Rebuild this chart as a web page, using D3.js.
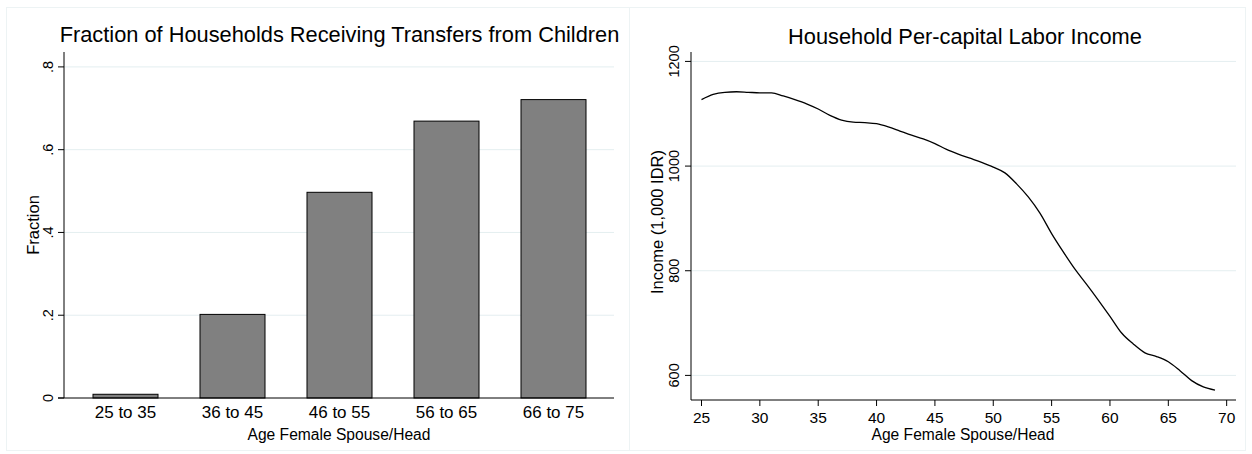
<!DOCTYPE html>
<html>
<head>
<meta charset="utf-8">
<script src="https://cdn.jsdelivr.net/npm/d3@7"></script>
<style>
  body { margin: 0; background: #fff; }
  svg { display: block; font-family: "Liberation Sans", Arial, Helvetica, sans-serif; }
</style>
</head>
<body>
<div class="chart"></div>
<script>
// Left panel data
const ageGroups = ["25 to 35", "36 to 45", "46 to 55", "56 to 65", "66 to 75"]
const fractionValues = [0.009, 0.202, 0.497, 0.669, 0.721]
const fractionTicks = [0, 0.2, 0.4, 0.6, 0.8]
const fractionTickLabels = ["0", ".2", ".4", ".6", ".8"]

// Right panel data
const ages = [25, 26, 27, 28, 29, 30, 31, 32, 33, 34, 35, 36, 37, 38, 39, 40, 41, 42, 43, 44, 45,
    46, 47, 48, 49, 50, 51, 52, 53, 54, 55, 56, 57, 58, 59, 60, 61, 62, 63, 64, 65, 66, 67, 68, 69]
const incomeValues = [1127, 1137, 1141, 1142, 1141, 1140, 1140, 1134, 1127, 1119, 1109, 1097, 1088, 1084, 1083, 1081,
    1075, 1067, 1059, 1052, 1043, 1032, 1023, 1015, 1007, 998, 987, 966, 941, 910, 871, 836, 803, 774, 744, 713,
    681, 660, 643, 636, 626, 609, 590, 578, 572]
const incomeTicks = [600, 800, 1000, 1200]
const ageTicks = [25, 30, 35, 40, 45, 50, 55, 60, 65, 70]

const width = 1252
const height = 454
const gridColor = "#e4eef0"
const frameColor = "#edf3f4"

const svg = d3.select(".chart").append("svg")
    .attr("width", width)
    .attr("height", height)
    .attr("viewBox", [0, 0, width, height])

// Panel frames
svg.append("rect").attr("x", 6.5).attr("y", 7.5).attr("width", 623).attr("height", 443)
    .attr("fill", "none").attr("stroke", frameColor)
svg.append("rect").attr("x", 629.5).attr("y", 7.5).attr("width", 616).attr("height", 443)
    .attr("fill", "none").attr("stroke", frameColor)

// ---------- Left: bar chart ----------
const x1 = d3.scaleBand()
    .domain(ageGroups)
    .range([72, 607])
    .paddingInner(0.3925)
    .paddingOuter(0.19625)
const y1 = d3.scaleLinear().domain([0, 0.836]).range([398, 52])
const left = { x0: 64, x1: 614 }

// gridlines
svg.append("g").selectAll("line")
    .data(fractionTicks.filter(d => d > 0))
    .join("line")
    .attr("x1", left.x0).attr("x2", left.x1)
    .attr("y1", d => y1(d)).attr("y2", d => y1(d))
    .attr("stroke", gridColor)

// bars
svg.append("g").selectAll("rect")
    .data(ageGroups)
    .join("rect")
    .attr("x", d => x1(d))
    .attr("width", x1.bandwidth())
    .attr("y", (d, i) => y1(fractionValues[i]))
    .attr("height", (d, i) => y1(0) - y1(fractionValues[i]))
    .attr("fill", "#808080")
    .attr("stroke", "#000")
    .attr("stroke-width", 1)

// axes lines
svg.append("line").attr("x1", left.x0).attr("x2", left.x0).attr("y1", 52).attr("y2", y1(0))
    .attr("stroke", "#000")
svg.append("line").attr("x1", left.x0 - 6).attr("x2", left.x1).attr("y1", y1(0)).attr("y2", y1(0))
    .attr("stroke", "#000")

// y ticks
const yTicks1 = svg.append("g").selectAll("g")
    .data(fractionTicks)
    .join("g")
yTicks1.append("line")
    .attr("x1", left.x0 - 6).attr("x2", left.x0)
    .attr("y1", d => y1(d)).attr("y2", d => y1(d))
    .attr("stroke", "#000")
yTicks1.append("text")
    .attr("transform", d => `translate(53,${y1(d)}) rotate(-90)`)
    .attr("text-anchor", "middle")
    .attr("font-size", 14.5)
    .text((d, i) => fractionTickLabels[i])

// x labels
svg.append("g").selectAll("text")
    .data(ageGroups)
    .join("text")
    .attr("x", d => x1(d) + x1.bandwidth() / 2)
    .attr("y", 418)
    .attr("text-anchor", "middle")
    .attr("font-size", 17)
    .text(d => d)

// titles
svg.append("text").attr("x", 339.5).attr("y", 42).attr("text-anchor", "middle")
    .attr("font-size", 21.8).text("Fraction of Households Receiving Transfers from Children")
svg.append("text").attr("x", 339).attr("y", 439.5).attr("text-anchor", "middle")
    .attr("font-size", 15.6).text("Age Female Spouse/Head")
svg.append("text").attr("transform", "translate(39,225) rotate(-90)").attr("text-anchor", "middle")
    .attr("font-size", 16.5).text("Fraction")

// ---------- Right: line chart ----------
const x2 = d3.scaleLinear().domain([24.1, 70.8]).range([691, 1236])
const y2 = d3.scaleLinear().domain([553, 1218]).range([400, 52])

svg.append("g").selectAll("line")
    .data(incomeTicks)
    .join("line")
    .attr("x1", 691).attr("x2", 1236)
    .attr("y1", d => y2(d)).attr("y2", d => y2(d))
    .attr("stroke", gridColor)

const line = d3.line()
    .x(d => x2(d[0]))
    .y(d => y2(d[1]))
    .curve(d3.curveMonotoneX)

svg.append("path")
    .datum(ages.map((a, i) => [a, incomeValues[i]]))
    .attr("d", line)
    .attr("fill", "none")
    .attr("stroke", "#000")
    .attr("stroke-width", 1.3)

// axes
svg.append("line").attr("x1", 691).attr("x2", 691).attr("y1", 52).attr("y2", 400).attr("stroke", "#000")
svg.append("line").attr("x1", 691).attr("x2", 1236).attr("y1", 400).attr("y2", 400).attr("stroke", "#000")

const yTicks2 = svg.append("g").selectAll("g")
    .data(incomeTicks)
    .join("g")
yTicks2.append("line")
    .attr("x1", 685).attr("x2", 691)
    .attr("y1", d => y2(d)).attr("y2", d => y2(d))
    .attr("stroke", "#000")
yTicks2.append("text")
    .attr("transform", d => `translate(679,${y2(d)}) rotate(-90)`)
    .attr("text-anchor", "middle")
    .attr("font-size", 14.5)
    .text(d => d)

const xTicks2 = svg.append("g").selectAll("g")
    .data(ageTicks)
    .join("g")
xTicks2.append("line")
    .attr("x1", d => x2(d)).attr("x2", d => x2(d))
    .attr("y1", 400).attr("y2", 406)
    .attr("stroke", "#000")
xTicks2.append("text")
    .attr("x", d => x2(d))
    .attr("y", 422.5)
    .attr("text-anchor", "middle")
    .attr("font-size", 15.5)
    .text(d => d)

svg.append("text").attr("x", 965).attr("y", 44).attr("text-anchor", "middle")
    .attr("font-size", 21.8).text("Household Per-capital Labor Income")
svg.append("text").attr("x", 963).attr("y", 439.5).attr("text-anchor", "middle")
    .attr("font-size", 15.6).text("Age Female Spouse/Head")
svg.append("text").attr("transform", "translate(663,222) rotate(-90)").attr("text-anchor", "middle")
    .attr("font-size", 16.5).text("Income (1,000 IDR)")
</script>
</body>
</html>
